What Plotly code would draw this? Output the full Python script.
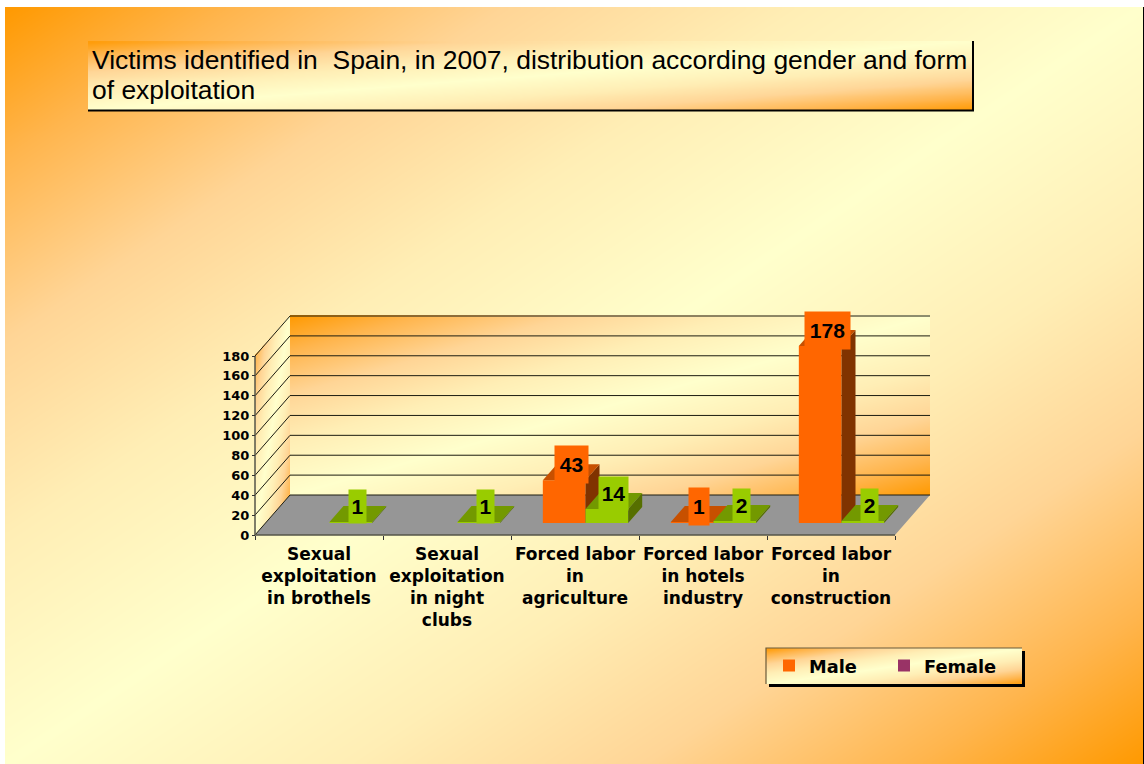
import numpy as np
import plotly.graph_objects as go

# ---- data ----
categories = [
    "Sexual<br>exploitation<br>in brothels",
    "Sexual<br>exploitation<br>in night<br>clubs",
    "Forced labor<br>in<br>agriculture",
    "Forced labor<br>in hotels<br>industry",
    "Forced labor<br>in<br>construction",
]
male = [None, None, 43, 1, 178]
female = [1, 1, 14, 2, 2]
y_ticks = [0, 20, 40, 60, 80, 100, 120, 140, 160, 180]
title_line_1 = "Victims identified in  Spain, in 2007, distribution according gender and form"
title_line_2 = "of exploitation"

# ---- style ----
W, H = 1144, 764
GRAD = [[0, "#ff9900"], [0.1, "#ffb54d"], [0.22, "#ffd596"], [0.35, "#ffeeb5"], [0.5, "#ffffcc"],
        [0.65, "#ffeeb5"], [0.78, "#ffd596"], [0.9, "#ffb54d"], [1, "#ff9900"]]
CAT_PX = 128       # pixels per category on the value plane
VAL_PX = 0.9944    # pixels per value unit
X0_PX, Y0_PX = 255, 535
DX = 35 / CAT_PX   # depth of the 3D box, in category units
DY = 40 / VAL_PX   # depth of the 3D box, in value units
BAR_W = 1 / 3
D0, D1 = 0.3, 0.7  # bar depth range
SANS = "DejaVu Sans"
FRONT = {"m": "#ff6600", "f": "#99cc00"}
TOP = {"m": "#c75000", "f": "#739900"}
SIDE = {"m": "#803300", "f": "#566f00"}

fig = go.Figure()


def panel(x0, y0, w, h, nx, ny, mask=None, smooth="best"):
    """Decorative diagonal gradient drawn on the pixel-scaled backdrop axes."""
    u = (np.arange(nx) + 0.5) / nx
    v = (np.arange(ny) + 0.5) / ny
    uu, vv = np.meshgrid(u, v)
    z = (uu + vv) / 2
    if mask is not None:
        z = np.where(mask(x0 + uu * w, y0 + vv * h), z, np.nan)
    fig.add_trace(go.Heatmap(
        z=z, x0=x0 + w / nx / 2, dx=w / nx, y0=y0 + h / ny / 2, dy=h / ny,
        colorscale=GRAD, zmin=0, zmax=1, showscale=False, hoverinfo="skip",
        zsmooth=smooth, xaxis="x", yaxis="y"))


def back_line(xs, ys, color, width):
    fig.add_trace(go.Scatter(x=xs, y=ys, mode="lines", line=dict(color=color, width=width),
                             hoverinfo="skip", showlegend=False, xaxis="x", yaxis="y"))


# slide, title box and legend box
panel(5, 7, 1138, 757, 285, 190)
back_line([1143.5, 1143.5], [7, 764], "#000000", 1)
panel(88, 41, 884, 69, 220, 20)
back_line([973, 973, 88], [41, 110.5, 110.5], "#000000", 2)
panel(766, 648, 256, 36, 64, 12)
back_line([1023.5, 1023.5, 769], [651, 685.5, 685.5], "#000000", 3)
back_line([766, 766, 1022], [684, 648, 648], "#6b5a3a", 1.2)
# walls of the 3D box
panel(290, 315, 640, 180, 160, 45)
panel(255, 315, 35, 220, 35, 220, smooth=False,
      mask=lambda x, y: (y <= 535 - (x - 255) * 40 / 35) & (y >= 355 - (x - 255) * 40 / 35))


def proj(x, y, d):
    return x + d * DX, y + d * DY


def poly(points, color, xa, ya):
    fig.add_trace(go.Scatter(
        x=[p[0] for p in points], y=[p[1] for p in points], mode="lines", fill="toself",
        fillcolor=color, line=dict(width=0), hoverinfo="skip", showlegend=False,
        xaxis=xa, yaxis=ya))


n = len(categories)
# floor
poly([proj(0, 0, 0), proj(n, 0, 0), proj(n, 0, 1), proj(0, 0, 1), proj(0, 0, 0)], "#969696",
     "x2", "y2")

# gridlines on both walls
gx, gy = [], []
for t in y_ticks:
    a, b, c = proj(0, t, 0), proj(0, t, 1), proj(n, t, 1)
    gx += [a[0], b[0], c[0], None]
    gy += [a[1], b[1], c[1], None]
fig.add_trace(go.Scatter(x=gx, y=gy, mode="lines", line=dict(color="#1c1c10", width=1),
                         hoverinfo="skip", showlegend=False, xaxis="x2", yaxis="y2"))
# front axis lines
fig.add_trace(go.Scatter(x=[0, 0, n], y=[y_ticks[-1], 0, 0], mode="lines",
                         line=dict(color="#55554a", width=1.5), hoverinfo="skip",
                         showlegend=False, xaxis="x2", yaxis="y2"))


def series(values, key, name, shift, legend, xa, ya):
    xc = [i + 0.5 + shift for i in range(n)]
    for x, v in zip(xc, values):
        if v is None:
            continue
        l, r = x - BAR_W / 2, x + BAR_W / 2
        poly([proj(r, v, D0), proj(r, 0, D0), proj(r, 0, D1), proj(r, v, D1), proj(r, v, D0)],
             SIDE[key], xa, ya)
        poly([proj(l, v, D0), proj(r, v, D0), proj(r, v, D1), proj(l, v, D1), proj(l, v, D0)],
             TOP[key], xa, ya)
    fig.add_trace(go.Bar(x=[x + D0 * DX for x in xc], y=values, base=D0 * DY, width=BAR_W, name=name,
                         marker=dict(color=FRONT[key], line=dict(width=0)),
                         showlegend=legend, hoverinfo="skip", xaxis=xa, yaxis=ya))
    widths = {"m": [20, 33, 45], "f": [17, 29, 41]}[key]
    height = {"m": 37, "f": 33}[key]
    for x, v in zip(xc, values):
        if v is None:
            continue
        lx, ly = proj(x, v, 0.5)
        fig.add_annotation(
            x=lx, y=ly + 8, xref=xa, yref=ya, text=f"<b>{v}</b>",
            showarrow=False, bgcolor=FRONT[key], borderpad=0, xanchor="center", yanchor="middle",
            width=widths[len(str(v)) - 1], height=height,
            font=dict(family="Liberation Sans", size=21, color="#000000"))


series(male, "m", "Male", -BAR_W / 2, True, "x3", "y3")
series(female, "f", "Female", BAR_W / 2, False, "x4", "y4")
# legend key of the second series
fig.add_trace(go.Scatter(x=[None], y=[None], mode="markers", name="Female",
                         marker=dict(color="#993366", symbol="square", size=12),
                         xaxis="x4", yaxis="y4"))

x_range = [-X0_PX / CAT_PX, (W - X0_PX) / CAT_PX]
y_range = [(Y0_PX - H) / VAL_PX, Y0_PX / VAL_PX]
hidden = dict(visible=False, fixedrange=True)

fig.add_annotation(x=90, y=90, xref="x", yref="y", text=title_line_2, showarrow=False,
                   xanchor="left", yanchor="middle",
                   font=dict(family="Liberation Sans", size=26.45, color="#000000"))

fig.update_layout(
    width=W, height=H, margin=dict(l=0, r=0, t=0, b=0, autoexpand=False), paper_bgcolor="#ffffff",
    plot_bgcolor="rgba(0,0,0,0)", barmode="overlay",
    title=dict(text=title_line_1, x=92 / W, xanchor="left", xref="paper", yref="paper",
               y=1 - 60 / H, yanchor="middle",
               font=dict(family="Liberation Sans", size=26.45, color="#000000")),
    xaxis=dict(range=[0, W], domain=[0, 1], **hidden),
    yaxis=dict(range=[H, 0], domain=[0, 1], **hidden),
    xaxis2=dict(range=x_range, domain=[0, 1], anchor="free", position=(H - Y0_PX) / H,
                tickvals=[i + 0.5 for i in range(n)], ticktext=categories, ticks="",
                tickangle=0, showgrid=False, zeroline=False, showline=False,
                ticklabelstandoff=7,
                minor=dict(tickvals=list(range(n + 1)), ticks="outside", ticklen=4,
                           tickcolor="#333333", tickwidth=1, showgrid=False),
                tickfont=dict(family=SANS, size=17, color="#000000", weight="bold"),
                fixedrange=True),
    yaxis2=dict(range=y_range, domain=[0, 1], anchor="free", position=X0_PX / W,
                tickvals=y_ticks, ticks="outside", ticklen=3, tickcolor="#333333",
                showgrid=False, zeroline=False, showline=False,
                tickfont=dict(family=SANS, size=13, color="#000000", weight="bold"),
                fixedrange=True),
    xaxis3=dict(range=x_range, overlaying="x2", **hidden),
    yaxis3=dict(range=y_range, overlaying="y2", **hidden),
    xaxis4=dict(range=x_range, overlaying="x2", **hidden),
    yaxis4=dict(range=y_range, overlaying="y2", **hidden),
    legend=dict(orientation="h", x=769 / W, xanchor="left", y=1 - 666 / H, yanchor="middle",
                bgcolor="rgba(0,0,0,0)", borderwidth=0, entrywidth=70, entrywidthmode="pixels",
                font=dict(family=SANS, size=17.8, color="#000000", weight="bold")),
)

fig.write_html("out.html", config=dict(displayModeBar=False),
               post_script="document.body.style.margin='0';")
